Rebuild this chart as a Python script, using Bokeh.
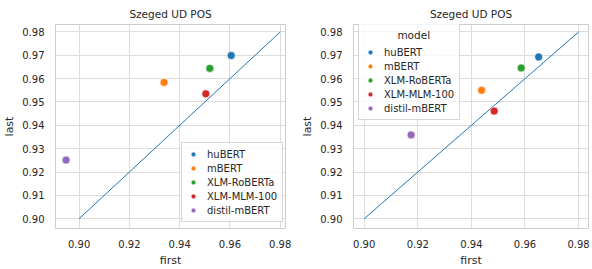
from bokeh.plotting import figure
from bokeh.layouts import row
from bokeh.models import ColumnDataSource, Legend, LegendItem, Range1d, CustomJSTickFormatter
from bokeh.embed import file_html
from bokeh.resources import INLINE

models = ["huBERT", "mBERT", "XLM-RoBERTa", "XLM-MLM-100", "distil-mBERT"]
colors = ["#1f77b4", "#ff7f0e", "#2ca02c", "#d62728", "#9467bd"]

# left panel
first_a = [0.9605, 0.9338, 0.9520, 0.9504, 0.8948]
last_a = [0.9699, 0.9584, 0.9644, 0.9535, 0.9251]
# right panel
first_b = [0.9651, 0.9438, 0.9586, 0.9485, 0.9175]
last_b = [0.9693, 0.9550, 0.9646, 0.9461, 0.9359]

diag = [0.90, 0.98]
ticks = [0.90, 0.91, 0.92, 0.93, 0.94, 0.95, 0.96, 0.97, 0.98]
xticks = [0.90, 0.92, 0.94, 0.96, 0.98]

FONT = "DejaVu Sans"
TXT = "#262626"


def make(first, last, xr, yr, fw, bl, br, legend_title, legend_loc):
    p = figure(output_backend="svg", toolbar_location=None,
               frame_width=fw, frame_height=204,
               min_border_left=bl, min_border_right=br,
               min_border_top=16, min_border_bottom=33,
               x_range=Range1d(*xr), y_range=Range1d(*yr),
               title="Szeged UD POS")
    p.title.align = "center"
    p.title.text_font = FONT
    p.title.text_font_size = "10.5px"
    p.title.text_font_style = "normal"
    p.title.text_color = TXT
    p.title.offset = 0
    p.background_fill_color = "white"
    p.border_fill_color = "white"
    p.outline_line_color = "#cccccc"
    p.outline_line_width = 1
    for ax in (p.xaxis, p.yaxis):
        ax.axis_line_color = None
        ax.major_tick_line_color = None
        ax.minor_tick_line_color = None
        ax.major_label_text_font = FONT
        ax.major_label_text_font_size = "10px"
        ax.major_label_text_color = TXT
        ax.axis_label_text_font = FONT
        ax.axis_label_text_font_size = "11px"
        ax.axis_label_text_font_style = "normal"
        ax.axis_label_text_color = TXT
        ax.major_label_standoff = 5
        ax.axis_label_standoff = 3
    p.xaxis.ticker = xticks
    p.yaxis.ticker = ticks
    p.xaxis.formatter = CustomJSTickFormatter(code="return tick.toFixed(2);")
    p.yaxis.formatter = CustomJSTickFormatter(code="return tick.toFixed(2);")
    p.xaxis.axis_label = "first"
    p.yaxis.axis_label = "last"
    p.grid.grid_line_color = "#dcdcdc"
    p.grid.grid_line_width = 1

    p.line(diag, diag, line_color="#1f77b4", line_width=1)

    items = []
    for m, c, fx, ly in zip(models, colors, first, last):
        src = ColumnDataSource(dict(x=[fx], y=[ly]))
        r = p.scatter("x", "y", source=src, size=8, fill_color=c,
                      line_color="white", line_width=0.6)
        items.append(LegendItem(label=m, renderers=[r]))
    leg = Legend(items=items, location=legend_loc,
                 label_text_font=FONT, label_text_font_size="10px",
                 label_text_color=TXT,
                 glyph_width=12, glyph_height=12, spacing=2,
                 padding=5, margin=0, label_standoff=8,
                 border_line_color="#cccccc", border_line_alpha=0.8,
                 background_fill_alpha=0.8)
    if legend_title:
        leg.title = legend_title
        leg.title_text_font = FONT
        leg.title_text_font_size = "10.5px"
        leg.title_text_font_style = "normal"
        leg.title_text_color = TXT
        leg.title_standoff = 5
    p.add_layout(leg, "center")
    return p


p1 = make(first_a, last_a, (0.8906, 0.9821), (0.8958, 0.9832), 230, 45, 13,
          None, (126, 6))
p2 = make(first_b, last_b, (0.8960, 0.9837), (0.8958, 0.9832), 235, 48, 5,
          "\u00a0" * 10 + "model", (5, 108))

layout = row(p1, p2)
open("out.html", "w").write(file_html(layout, INLINE))
